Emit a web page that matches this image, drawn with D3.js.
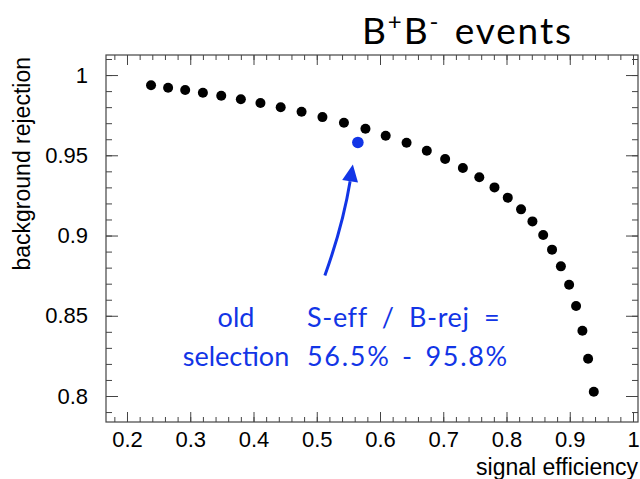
<!DOCTYPE html>
<html>
<head>
<meta charset="utf-8">
<script src="https://cdn.jsdelivr.net/npm/d3@7"></script>
<style>
  html, body { margin: 0; padding: 0; background: #fff; }
  svg { display: block; }
  .tick text { font-family: "Liberation Sans", Arial, sans-serif; }
</style>
</head>
<body>
<svg id="chart" width="640" height="479"></svg>
<script>
// Signal efficiency vs background rejection scan
const sigEff = [0.238, 0.265, 0.292, 0.320, 0.349, 0.380, 0.411, 0.443, 0.476, 0.509,
                0.543, 0.577, 0.609, 0.642, 0.674, 0.703, 0.731, 0.757, 0.781, 0.802,
                0.823, 0.841, 0.858, 0.872, 0.886, 0.899, 0.910, 0.920, 0.929, 0.938];
const bkgRej = [0.9936, 0.9921, 0.9907, 0.9890, 0.9871, 0.9849, 0.9826, 0.9799, 0.9771, 0.9738,
                0.9703, 0.9665, 0.9622, 0.9578, 0.9528, 0.9477, 0.9421, 0.9363, 0.9300, 0.9236,
                0.9163, 0.9088, 0.9003, 0.8912, 0.8808, 0.8693, 0.8561, 0.8407, 0.8232, 0.8027];

// Working point of the old selection
const oldSel = { eff: 0.565, rej: 0.958 };

const xTicks = [0.2, 0.3, 0.4, 0.5, 0.6, 0.7, 0.8, 0.9, 1];
const yTicks = [0.8, 0.85, 0.9, 0.95, 1];

const xDomain = [0.1668, 1.0079];
const yDomain = [0.7838, 1.0125];

const frame = { left: 106, right: 638, top: 55, bottom: 422 };
const blue = "#1235e6";
const axisColor = "#444";

const svg = d3.select("#chart");

const x = d3.scaleLinear().domain(xDomain).range([frame.left, frame.right]);
const y = d3.scaleLinear().domain(yDomain).range([frame.bottom, frame.top]);

// minor ticks
const xMinor = d3.range(0.18, 1.005, 0.02).map(v => +v.toFixed(2)).filter(v => v > xDomain[0] && v < xDomain[1]);
const yMinor = d3.range(0.79, 1.011, 0.01).map(v => +v.toFixed(2)).filter(v => v > yDomain[0] && v < yDomain[1]);

function styleAxis(g) {
  g.select(".domain").remove();
  g.selectAll(".tick line").attr("stroke", axisColor).attr("stroke-width", 1);
}

// bottom axis: minor then major with labels
svg.append("g").attr("transform", `translate(0,${frame.bottom})`)
  .call(d3.axisBottom(x).tickValues(xMinor).tickSize(-5).tickFormat(""))
  .call(styleAxis);
svg.append("g").attr("transform", `translate(0,${frame.bottom})`)
  .call(d3.axisBottom(x).tickValues(xTicks).tickSize(-10).tickPadding(9).tickFormat(d3.format("~g")))
  .call(styleAxis)
  .call(g => g.selectAll("text").attr("font-size", 22).attr("fill", "#000"));

// top axis mirror
svg.append("g").attr("transform", `translate(0,${frame.top})`)
  .call(d3.axisTop(x).tickValues(xMinor).tickSize(-5).tickFormat(""))
  .call(styleAxis);
svg.append("g").attr("transform", `translate(0,${frame.top})`)
  .call(d3.axisTop(x).tickValues(xTicks).tickSize(-10).tickFormat(""))
  .call(styleAxis);

// left axis
svg.append("g").attr("transform", `translate(${frame.left},0)`)
  .call(d3.axisLeft(y).tickValues(yMinor).tickSize(-6).tickFormat(""))
  .call(styleAxis);
svg.append("g").attr("transform", `translate(${frame.left},0)`)
  .call(d3.axisLeft(y).tickValues(yTicks).tickSize(-12).tickPadding(18).tickFormat(d3.format("~g")))
  .call(styleAxis)
  .call(g => g.selectAll("text").attr("font-size", 22).attr("fill", "#000"));

// right axis mirror
svg.append("g").attr("transform", `translate(${frame.right},0)`)
  .call(d3.axisRight(y).tickValues(yMinor).tickSize(-6).tickFormat(""))
  .call(styleAxis);
svg.append("g").attr("transform", `translate(${frame.right},0)`)
  .call(d3.axisRight(y).tickValues(yTicks).tickSize(-12).tickFormat(""))
  .call(styleAxis);

// frame
svg.append("rect")
  .attr("x", frame.left).attr("y", frame.top)
  .attr("width", frame.right - frame.left).attr("height", frame.bottom - frame.top)
  .attr("fill", "none").attr("stroke", axisColor).attr("stroke-width", 1.2);

// axis titles
svg.append("text")
  .attr("x", frame.right).attr("y", 475)
  .attr("text-anchor", "end")
  .attr("font-family", "Liberation Sans, Arial, sans-serif")
  .attr("font-size", 23)
  .text("signal efficiency");

svg.append("text")
  .attr("transform", `translate(30,${frame.top + 2}) rotate(-90)`)
  .attr("text-anchor", "end")
  .attr("font-family", "Liberation Sans, Arial, sans-serif")
  .attr("font-size", 23)
  .text("background rejection");

// scan points
const pts = sigEff.map((e, i) => ({ eff: e, rej: bkgRej[i] }));
svg.append("g").selectAll("circle").data(pts).join("circle")
  .attr("cx", d => x(d.eff)).attr("cy", d => y(d.rej))
  .attr("r", 5).attr("fill", "#000");

// old selection point
const ox = x(oldSel.eff), oy = y(oldSel.rej);
svg.append("circle").attr("cx", ox).attr("cy", oy).attr("r", 5.8).attr("fill", blue);

// curved arrow pointing at the old selection
const tip = [ox - 5, oy + 22];
const tail = [ox - 33, oy + 133];
const ctrl = [ox - 15, oy + 83];
const ang = Math.atan2(tip[1] - ctrl[1], tip[0] - ctrl[0]);
const headLen = 17, headHalf = 8;
const base = [tip[0] - headLen * Math.cos(ang), tip[1] - headLen * Math.sin(ang)];
svg.append("path")
  .attr("d", `M${tail[0]},${tail[1]} Q${ctrl[0]},${ctrl[1]} ${base[0]},${base[1]}`)
  .attr("fill", "none").attr("stroke", blue).attr("stroke-width", 3);
const px = -Math.sin(ang), py = Math.cos(ang);
svg.append("path")
  .attr("d", `M${tip[0]},${tip[1]} L${base[0] + headHalf * px},${base[1] + headHalf * py} L${base[0] - headHalf * px},${base[1] - headHalf * py} Z`)
  .attr("fill", blue);

// annotation text
const annFont = "Lato, 'Open Sans', sans-serif";
const fmtPct = d3.format(".1f");
svg.append("text").attr("x", 236).attr("y", 327).attr("text-anchor", "middle")
  .attr("font-family", annFont).attr("font-size", 27).attr("fill", blue).text("old");
svg.append("text").attr("x", 236).attr("y", 366).attr("text-anchor", "middle")
  .attr("font-family", annFont).attr("font-size", 27).attr("fill", blue).text("selection");
svg.append("text").attr("x", 307).attr("y", 327)
  .attr("font-family", annFont).attr("font-size", 27).attr("fill", blue)
  .attr("letter-spacing", 0.6).attr("word-spacing", 7)
  .text("S-eff / B-rej =");
svg.append("text").attr("x", 307).attr("y", 366)
  .attr("font-family", annFont).attr("font-size", 27).attr("fill", blue)
  .attr("letter-spacing", 1.7).attr("word-spacing", 3)
  .text(`${fmtPct(oldSel.eff * 100)}% - ${fmtPct(oldSel.rej * 100)}%`);

// title
const title = svg.append("text").attr("x", 362).attr("y", 44)
  .attr("font-family", annFont).attr("font-size", 37).attr("fill", "#000")
  .attr("letter-spacing", 1.9).attr("word-spacing", 3);
title.append("tspan").text("B");
title.append("tspan").attr("dy", -14).attr("font-size", 24).text("+");
title.append("tspan").attr("dy", 14).text("B");
title.append("tspan").attr("dy", -14).attr("font-size", 24).text("-");
title.append("tspan").attr("dy", 14).text(" events");
</script>
</body>
</html>
